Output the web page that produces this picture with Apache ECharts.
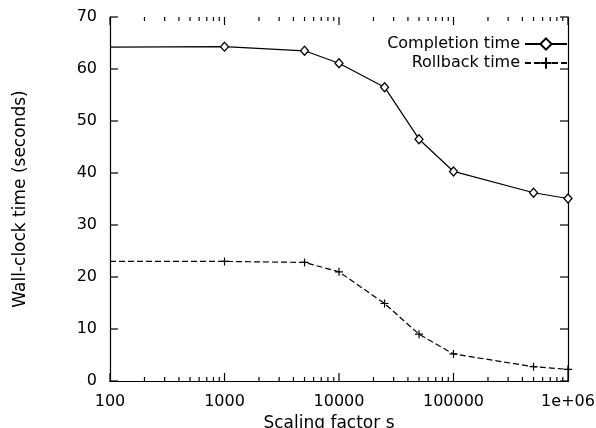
<!DOCTYPE html>
<html>
<head>
<meta charset="utf-8">
<script src="https://cdn.jsdelivr.net/npm/echarts@6/dist/echarts.min.js"></script>
<style>
  html, body { margin: 0; padding: 0; background: #fff; }
  #main { width: 596px; height: 428px; }
</style>
</head>
<body>
<div id="main"></div>
<script>
// scaling factor s (log axis)
var scaleValues = [100, 1000, 5000, 10000, 25000, 50000, 100000, 500000, 1000000];
// wall-clock time (seconds)
var completionTime = [64.2, 64.3, 63.5, 61.1, 56.5, 46.5, 40.3, 36.2, 35.1];
var rollbackTime = [23.0, 23.0, 22.8, 21.0, 14.9, 9.0, 5.2, 2.75, 2.25];
// tick labels
var xTicks = [100, 1000, 10000, 100000, 1000000];
var xTickLabels = ['100', '1000', '10000', '100000', '1e+06'];
var yTicks = [0, 10, 20, 30, 40, 50, 60, 70];
var minorTicks = [200, 300, 400, 500, 600, 700, 800, 900,
    2000, 3000, 4000, 5000, 6000, 7000, 8000, 9000,
    20000, 30000, 40000, 50000, 60000, 70000, 80000, 90000,
    200000, 300000, 400000, 500000, 600000, 700000, 800000, 900000];

var font = 'DejaVu Sans';
var dom = document.getElementById('main');
var myChart = echarts.init(dom, null, { renderer: 'canvas' });

function toData(ys) {
    var out = [];
    for (var i = 0; i < scaleValues.length; i++) {
        var item = { value: [scaleValues[i], ys[i]] };
        // first point sits on the left border, no marker drawn there
        if (i === 0) item.symbol = 'none';
        out.push(item);
    }
    return out;
}

function xLabel(v) {
    var idx = xTicks.indexOf(Math.round(v));
    return idx >= 0 ? xTickLabels[idx] : '';
}

// inward ticks on bottom+top border (x ticks)
function xTickSeries(values, len) {
    return {
        type: 'custom',
        silent: true,
        clip: false,
        z: 5,
        data: values.map(function (v) { return [v, 0]; }),
        renderItem: function (params, api) {
            var v = api.value(0);
            var b = api.coord([v, 0]);
            var t = api.coord([v, 70]);
            var st = { stroke: '#000', lineWidth: 1.2 };
            return {
                type: 'group',
                children: [
                    { type: 'line', shape: { x1: b[0], y1: b[1], x2: b[0], y2: b[1] - len }, style: st },
                    { type: 'line', shape: { x1: t[0], y1: t[1], x2: t[0], y2: t[1] + len }, style: st }
                ]
            };
        }
    };
}

// inward ticks on left+right border (y ticks)
function yTickSeries(values, len) {
    return {
        type: 'custom',
        silent: true,
        clip: false,
        z: 5,
        data: values.map(function (v) { return [100, v]; }),
        renderItem: function (params, api) {
            var v = api.value(1);
            var l = api.coord([100, v]);
            var r = api.coord([1000000, v]);
            var st = { stroke: '#000', lineWidth: 1.2 };
            return {
                type: 'group',
                children: [
                    { type: 'line', shape: { x1: l[0], y1: l[1], x2: l[0] + len, y2: l[1] }, style: st },
                    { type: 'line', shape: { x1: r[0], y1: r[1], x2: r[0] - len, y2: r[1] }, style: st }
                ]
            };
        }
    };
}

var axisLine = { show: true, lineStyle: { color: '#000', width: 1.2 } };

var option = {
    animation: false,
    backgroundColor: '#fff',
    textStyle: { fontFamily: font, color: '#000' },
    grid: { left: 110, right: 28, top: 17, bottom: 47, containLabel: false, outerBoundsMode: 'none' },
    legend: {
        data: ['Completion time', 'Rollback time'],
        orient: 'vertical',
        align: 'right',
        right: 28,
        top: 36,
        padding: 0,
        itemWidth: 42,
        itemHeight: 14,
        itemGap: 3,
        textStyle: { fontFamily: font, fontSize: 16, color: '#000' }
    },
    xAxis: [
        {
            type: 'log',
            logBase: 10,
            min: 100,
            max: 1000000,
            name: 'Scaling factor s',
            nameLocation: 'middle',
            nameGap: 31,
            nameTextStyle: { fontFamily: font, fontSize: 17, color: '#000', padding: [0, 20, 0, 0] },
            axisLine: axisLine,
            axisTick: { show: false },
            axisLabel: {
                fontFamily: font, fontSize: 16, color: '#000', margin: 13,
                showMinLabel: true, showMaxLabel: true,
                formatter: xLabel
            },
            splitLine: { show: false }
        },
        {
            type: 'log',
            logBase: 10,
            min: 100,
            max: 1000000,
            position: 'top',
            axisLine: axisLine,
            axisTick: { show: false },
            axisLabel: { show: false },
            splitLine: { show: false }
        }
    ],
    yAxis: [
        {
            type: 'value',
            min: 0,
            max: 70,
            interval: 10,
            name: 'Wall-clock time (seconds)',
            nameLocation: 'middle',
            nameGap: 81,
            nameTextStyle: { fontFamily: font, fontSize: 17, color: '#000' },
            axisLine: axisLine,
            axisTick: { show: false },
            axisLabel: { fontFamily: font, fontSize: 16, color: '#000', margin: 13 },
            splitLine: { show: false }
        },
        {
            type: 'value',
            min: 0,
            max: 70,
            interval: 10,
            position: 'right',
            axisLine: axisLine,
            axisTick: { show: false },
            axisLabel: { show: false },
            splitLine: { show: false }
        }
    ],
    series: [
        {
            name: 'Completion time',
            type: 'line',
            data: toData(completionTime),
            symbol: 'diamond',
            symbolSize: [8, 9],
            showAllSymbol: true,
            lineStyle: { color: '#000', width: 1.2, type: 'solid' },
            itemStyle: { color: '#fff', borderColor: '#000', borderWidth: 1.3 }
        },
        {
            name: 'Rollback time',
            type: 'line',
            data: toData(rollbackTime),
            symbol: 'path://M0,5L10,5M5,0L5,10',
            symbolSize: 8,
            showAllSymbol: true,
            lineStyle: { color: '#000', width: 1.2, type: [6, 3] },
            itemStyle: { color: 'none', borderColor: '#000', borderWidth: 1.2 }
        },
        xTickSeries(xTicks, 8),
        xTickSeries(minorTicks, 4),
        yTickSeries(yTicks, 8)
    ]
};

myChart.setOption(option);
</script>
</body>
</html>
